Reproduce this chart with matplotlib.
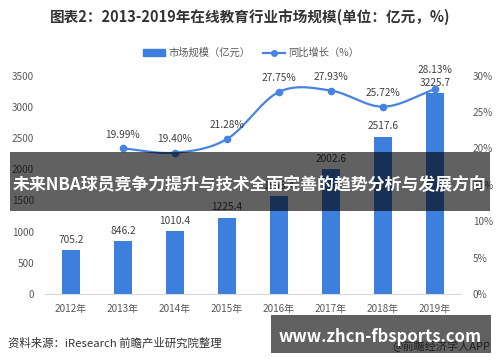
import numpy as np
import matplotlib
matplotlib.use("Agg")
import matplotlib.pyplot as plt
from matplotlib.patches import Rectangle, Patch
from matplotlib.lines import Line2D

plt.rcParams['font.family'] = ['Noto Sans CJK SC', 'DejaVu Sans']

years = ["2012年", "2013年", "2014年", "2015年", "2016年", "2017年", "2018年", "2019年"]
market = [705.2, 846.2, 1010.4, 1225.4, 1565.4, 2002.6, 2517.6, 3225.7]
growth_years_idx = [1, 2, 3, 4, 5, 6, 7]
growth = [19.99, 19.40, 21.28, 27.75, 27.93, 25.72, 28.13]
left_ticks = [0, 500, 1000, 1500, 2000, 2500, 3000, 3500]
right_ticks = [0, 5, 10, 15, 20, 25, 30]

title = "图表2：2013-2019年在线教育行业市场规模(单位：亿元，%)"
banner = "未来NBA球员竞争力提升与技术全面完善的趋势分析与发展方向"
source = "资料来源：iResearch 前瞻产业研究院整理"
site = "www.zhcn-fbsports.com"
app = "@前瞻经济学人APP"

bar_c = '#3d7fdc'
line_c = '#4584e0'
tick_c = '#595959'

fig = plt.figure(figsize=(5, 3.62), dpi=100)
ax = fig.add_axes([0.09, 0.1878, 0.832, 0.6036])
x = np.arange(len(years))
ax.bar(x, market, width=0.33, color=bar_c, zorder=2)
ax.set_xlim(-0.5, len(years) - 0.5)
ax.set_ylim(0, 3500)
ax.set_yticks(left_ticks)
ax.set_xticks(x)
ax.set_xticklabels(years)
for s in ['top', 'right', 'left']:
    ax.spines[s].set_visible(False)
ax.spines['bottom'].set_color('#d9d9d9')
ax.tick_params(axis='both', length=0, colors=tick_c, labelsize=7.2)
ax.tick_params(axis='y', pad=8)
ax.tick_params(axis='x', pad=7)

for i, v in enumerate(market):
    off = 7.5 if i < 7 else 7
    ax.annotate(f"{v:.1f}", (x[i], v), xytext=(0, off), textcoords='offset points',
                ha='center', va='center', fontsize=7.3, color='#404040')

ax2 = ax.twinx()
ax2.set_ylim(0, 30)
ax2.set_yticks(right_ticks)
ax2.set_yticklabels([f"{t}%" for t in right_ticks])
for s in ax2.spines.values():
    s.set_visible(False)
ax2.tick_params(axis='y', length=0, colors=tick_c, labelsize=7.2, pad=8.5)

# smooth curve (Catmull-Rom) through the data points
gx = np.array(growth_years_idx, dtype=float)
gy = np.array(growth, dtype=float)
P = np.column_stack([gx, gy])
Pe = np.vstack([2 * P[0] - P[1], P, 2 * P[-1] - P[-2]])
xs, ys = [], []
t = np.linspace(0, 1, 30)
for k in range(1, len(Pe) - 2):
    p0, p1, p2, p3 = Pe[k - 1], Pe[k], Pe[k + 1], Pe[k + 2]
    tt = t[:, None]
    seg = 0.5 * ((2 * p1) + (-p0 + p2) * tt + (2 * p0 - 5 * p1 + 4 * p2 - p3) * tt ** 2
                 + (-p0 + 3 * p1 - 3 * p2 + p3) * tt ** 3)
    xs.extend(seg[:, 0]); ys.extend(seg[:, 1])
ax2.plot(xs, ys, color=line_c, lw=1.6, zorder=3)
ax2.plot(gx, gy, 'o', color=line_c, ms=4.5, zorder=4)
for i, v in zip(growth_years_idx, growth):
    off = 10 if i < 7 else 13.5
    ax2.annotate(f"{v:.2f}%", (i, v), xytext=(0, off), textcoords='offset points',
                 ha='center', va='center', fontsize=7.3, color='#404040')

fig.text(0.5, 1 - 17 / 362, title, ha='center', va='center', fontsize=10.5,
         fontweight='bold', color='#333333')

handles = [Patch(color=bar_c), Line2D([0], [0], color=line_c, lw=1.6, marker='o', ms=4)]
fig.legend(handles, ["市场规模（亿元）", "同比增长（%）"], loc='center',
           bbox_to_anchor=(0.502, 1 - 53 / 362), ncol=2, frameon=False, fontsize=7.4,
           labelcolor=tick_c, handlelength=2.2, handleheight=0.6, columnspacing=1.2,
           handletextpad=0.3)

fig.text(8 / 500, 1 - 343 / 362, source, ha='left', va='center', fontsize=8.2, color='#333333')

# overlays
fig.patches.append(Rectangle((0.02, 1 - 211 / 362), 0.96, 59 / 362, transform=fig.transFigure,
                             facecolor='black', alpha=0.62, zorder=10))
fig.text(0.5, 1 - 185 / 362, banner, ha='center', va='center', fontsize=12.2,
         fontweight='bold', color='white', zorder=11)

fig.text(392 / 500, 1 - 346.7 / 362, app, ha='left', va='center', fontsize=8, color='#555555', zorder=9)
fig.patches.append(Rectangle((271 / 500, 1 - 353 / 362), 220 / 500, 38 / 362,
                             transform=fig.transFigure, facecolor='black', alpha=0.62, zorder=10))
fig.text(380.5 / 500, 1 - 336.7 / 362, site, ha='center', va='center', fontsize=12,
         fontweight='bold', color='white', zorder=11)

fig.savefig("out.png", dpi=100)
